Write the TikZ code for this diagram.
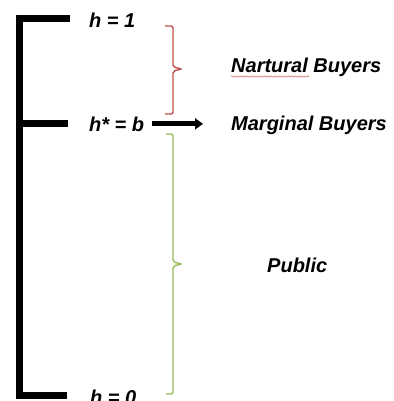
\documentclass[tikz,border=0pt]{standalone}
\usepackage{fontspec}
\setmainfont{Liberation Sans}
\usetikzlibrary{arrows.meta,calc,decorations.pathmorphing,positioning}
\definecolor{ink}{HTML}{000000}
\definecolor{brick}{HTML}{C0504D}
\definecolor{leaf}{HTML}{9BBB59}
\tikzset{
  levelbar/.style={draw=ink, line width=7pt, line join=miter},
  levellabel/.style={
    font=\fontsize{20}{24}\selectfont\bfseries\itshape,
    text=ink,
    inner sep=0pt,
    anchor=base west
  },
  grouplabel/.style={levellabel},
  groupbrace/.style={line width=1.4pt, rounded corners=2pt},
  pusharrow/.style={-{Triangle[length=8pt,width=11pt]}, line width=5pt, draw=ink},
  spellmark/.style={draw=brick!80, line width=0.6pt, decorate,
    decoration={snake, amplitude=0.7pt, segment length=3pt}}
}

\begin{document}
\begin{tikzpicture}[x=1pt, y=-1pt]
  \useasboundingbox (0,0) rectangle (393,401);

  % the bracket
  \draw[levelbar] (70,19) -- (19,19) -- (19,395) -- (67,395);
  \draw[levelbar] (19,123) -- (68,123);

  \node[levellabel] (h1) at (89,28) {h = 1};
  \node[levellabel] (hstar) at (89,131) {h* = b};
  \node[levellabel] (h0) at (90,404) {h = 0};

  \node[grouplabel] (natural) at (231,72.5) {Nartural Buyers};
  \node[grouplabel] (marginal) at (231,130) {Marginal Buyers};
  \node[grouplabel] (public) at (267,272) {Public};

  % braces
  \coordinate (ntop) at (165,26);
  \coordinate (ntip) at (182,69);
  \coordinate (nbot) at (165,114);
  \coordinate (ptop) at (166,134);
  \coordinate (ptip) at (182,264);
  \coordinate (pbot) at (166,394);
  \draw[groupbrace, draw=brick] (ntop) -| ($(ntip)+(-9,-2)$) -- (ntip)
    -- ($(ntip)+(-9,2)$) |- (nbot);
  \draw[groupbrace, draw=leaf] (ptop) -| ($(ptip)+(-9,-2)$) -- (ptip)
    -- ($(ptip)+(-9,2)$) |- (pbot);

  \draw[pusharrow, shorten <=8pt, shorten >=28pt] (hstar.east) -- (hstar.east -| marginal.west);
  \draw[spellmark] ([yshift=-4pt]natural.base west) -- ++(78,0);
\end{tikzpicture}
\end{document}
